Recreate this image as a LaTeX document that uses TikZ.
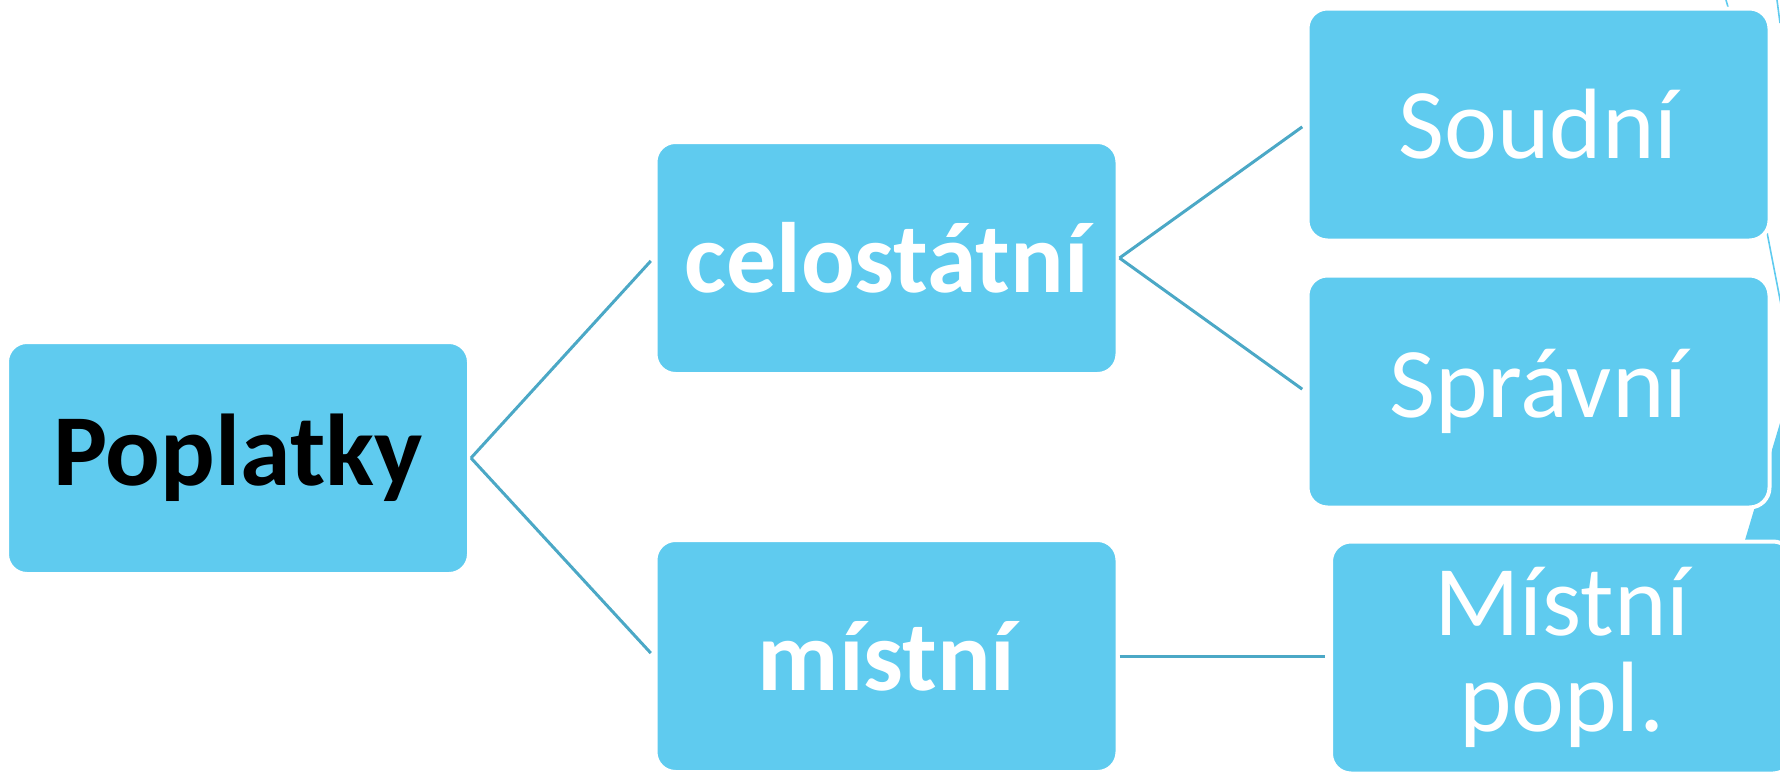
\documentclass[tikz,border=0pt]{standalone}
\usepackage{fontspec}
\setmainfont{Carlito}
\usetikzlibrary{positioning}
\definecolor{boxblue}{RGB}{95,203,239}
\definecolor{linkblue}{RGB}{75,168,198}

\tikzset{
	feebox/.style={rectangle, rounded corners=5pt, fill=boxblue, draw=white, line width=1pt,
		minimum width=115.5pt, minimum height=58pt, inner sep=0pt, text=white, align=center,
		font=\fontsize{25}{24}\selectfont},
	link/.style={draw=linkblue, line width=0.75pt, shorten >=1pt},
	stray/.style={draw=boxblue, line width=0.4pt}
}

\begin{document}
\begin{tikzpicture}[x=0.25pt, y=-0.25pt]
			%%%%% START %%%%%
			\useasboundingbox (0,0) rectangle (1780,772);
			
			% pieces cut off at the right edge
			\fill[boxblue] (1780,423) -- (1745,540) -- (1725,610) -- (1800,610) -- (1800,423) -- cycle;
			\draw[stray] (1726,0) -- (1728,7);
			\draw[stray] (1777,0) -- (1780,23);
			\draw[stray] (1765,222) -- (1784,320);
			
			\node[feebox, text=black, font=\fontsize{25.5}{24}\selectfont\bfseries] (pop) at (238,458) {Poplatky};
			
			\node[feebox, font=\fontsize{25}{24}\selectfont\bfseries] (cel) at (886.5,258) {celostátní};
			\node[feebox, font=\fontsize{25}{24}\selectfont\bfseries] (mis) at (886.5,656) {místní};
			
			\node[feebox] (soud) at (1538.5,124.5) {Soudní};
			\node[feebox] (sprav) at (1538.5,391.5) {Správní};
			\node[feebox] (mpopl) at (1562,657.5) {Místní\\popl.};
			
			\draw[link] (pop.east) -- (cel.west);
			\draw[link] (pop.east) -- (mis.west);
			\draw[link] (cel.east) -- (soud.west);
			\draw[link] (cel.east) -- (sprav.west);
			\draw[link] (mis.east) -- (mis.east -| mpopl.west);
			
			%%%%% END %%%%%
\end{tikzpicture}
\end{document}
